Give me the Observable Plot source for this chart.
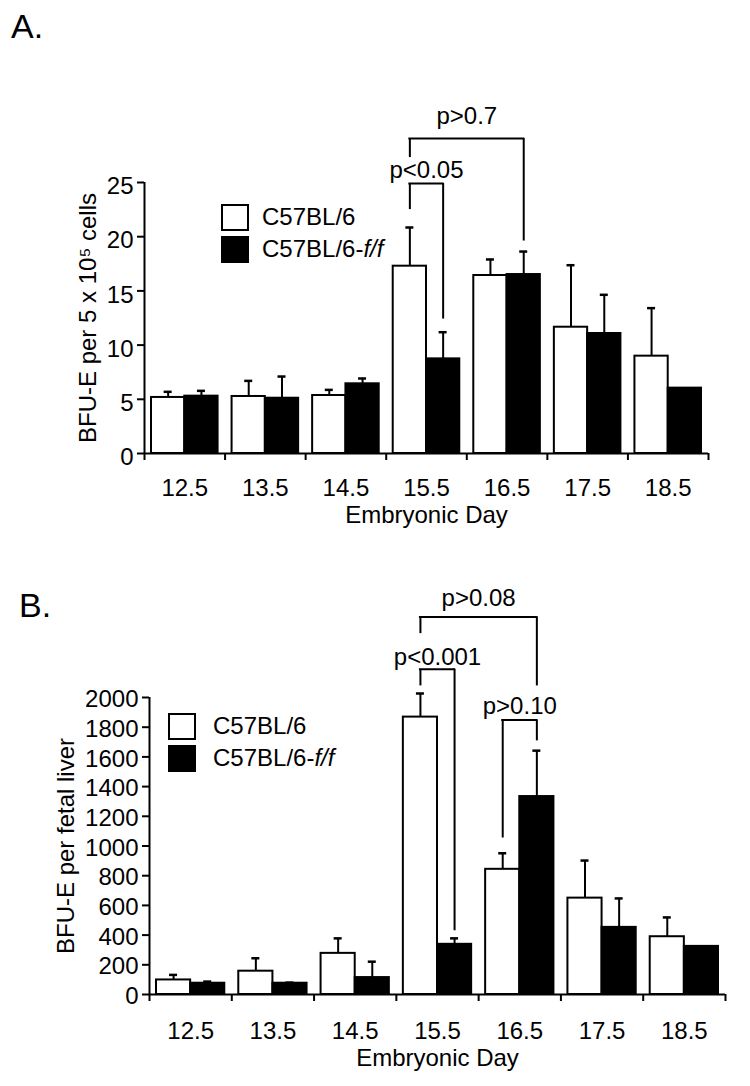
<!DOCTYPE html>
<html>
<head>
<meta charset="utf-8">
<script src="https://cdn.jsdelivr.net/npm/d3@7"></script>
<script src="https://cdn.jsdelivr.net/npm/@observablehq/plot@0.6"></script>
<style>
  html, body { margin: 0; padding: 0; background: #fff; }
  body { font-family: "Liberation Sans", Arial, Helvetica, sans-serif; color: #000; }
  #wrap { position: relative; width: 750px; height: 1086px; overflow: hidden; }
  .panel { position: absolute; left: 0; }
  .tag { position: absolute; font-size: 34px; line-height: 34px; }
  .box { position: absolute; box-sizing: border-box; border: 2px solid #000; }
  .lbl { position: absolute; font-size: 24px; line-height: 28px; white-space: nowrap; }
</style>
</head>
<body>
<div id="wrap">
  <div class="tag" style="left:11px; top:9px;">A.</div>
  <div class="tag" style="left:19px; top:588px;">B.</div>
  <div class="box" style="left:221px; top:204px; width:28px; height:27px; background:#fff;"></div>
  <div class="box" style="left:221px; top:236px; width:28px; height:27px; background:#000;"></div>
  <div class="lbl" style="left:262px; top:203px;">C57BL/6</div>
  <div class="lbl" style="left:262px; top:235px;">C57BL/6-<i>f/f</i></div>
  <div class="box" style="left:168px; top:713px; width:28px; height:27px; background:#fff;"></div>
  <div class="box" style="left:168px; top:745px; width:28px; height:27px; background:#000;"></div>
  <div class="lbl" style="left:213px; top:712px;">C57BL/6</div>
  <div class="lbl" style="left:213px; top:744px;">C57BL/6-<i>f/f</i></div>
</div>
<script>
// ---------- data ----------
const days = ["12.5", "13.5", "14.5", "15.5", "16.5", "17.5", "18.5"];
const seriesNames = ["C57BL/6", "C57BL/6-f/f"];

// Panel A: BFU-E per 5 x 10^5 cells (mean and top of SD bar)
const aWT    = [5.17, 5.26, 5.35, 17.28, 16.42, 11.65, 8.98];
const aWTtop = [5.69, 6.70, 5.87, 20.85, 17.90, 17.37, 13.41];
const aFF    = [5.29, 5.10, 6.43, 8.73, 16.51, 11.07, 6.03];
const aFFtop = [5.78, 7.10, 6.92, 11.19, 18.63, 14.64, null];
const aTicks = [0, 5, 10, 15, 20, 25];

// Panel B: BFU-E per fetal liver
const bWT    = [98, 157, 277, 1868, 843, 649, 389];
const bWTtop = [132, 244, 378, 2027, 951, 902, 519];
const bFF    = [76, 76, 114, 338, 1333, 452, 324];
const bFFtop = [87, 80, 221, 378, 1642, 647, null];
const bTicks = [0, 200, 400, 600, 800, 1000, 1200, 1400, 1600, 1800, 2000];

// significance brackets: from/to = [day, series index]; levels in data units
const aBrackets = [
  {label: "p<0.05", from: ["15.5", 0], to: ["15.5", 1], top: 24.9, fromEnd: 22.5, toEnd: 12.4, labelAt: 26.1},
  {label: "p>0.7",  from: ["15.5", 0], to: ["16.5", 1], top: 29.06, fromEnd: 27.3, toEnd: 19.6, labelAt: 31.15}
];
const bBrackets = [
  {label: "p>0.08",  from: ["15.5", 0], to: ["16.5", 1], top: 2542, fromEnd: 2430, toEnd: 2078, labelAt: 2670},
  {label: "p<0.001", from: ["15.5", 0], to: ["15.5", 1], top: 2190, fromEnd: 2078, toEnd: 430, labelAt: 2273},
  {label: "p>0.10",  from: ["16.5", 0], to: ["16.5", 1], top: 1849, fromEnd: 1054, toEnd: 1708, labelAt: 1943}
];

// ---------- drawing ----------
function panel(o) {
  const step = (o.width - o.ml - o.mr) / days.length;
  const half = step / 2, gap = 7, barW = half - gap, cap = 4;
  const off = [-barW / 2, barW / 2];
  const frameH = o.height - o.mt - o.mb;
  const mk = (vals, tops, s) => days.map((d, i) => ({day: d, series: seriesNames[s], v: vals[i], top: tops[i]}));
  const groups = [mk(o.wt, o.wtTop, 0), mk(o.ff, o.ffTop, 1)];
  const marks = [];
  groups.forEach((rows, s) => {
    marks.push(Plot.barY(rows, {x: "day", y: "v", fill: s ? "black" : "white", stroke: "black", strokeWidth: 2,
      insetLeft: s ? half : gap, insetRight: s ? gap : half}));
    const e = rows.filter(r => r.top != null);
    marks.push(Plot.ruleX(e, {x: "day", y1: "v", y2: "top", dx: off[s], strokeWidth: 2}));
    marks.push(Plot.tickY(e, {x: "day", y: "top", insetLeft: half + off[s] - cap, insetRight: half - off[s] - cap, strokeWidth: 2.5}));
  });
  // axes
  marks.push(
    Plot.ruleY([o.domain[0]], {strokeWidth: 2}),
    Plot.ruleX([days[0]], {x: d => d, y1: o.domain[0], y2: o.domain[1], dx: -half, strokeWidth: 2}),
    Plot.ruleX(days, {x: d => d, dx: -half, insetTop: frameH, insetBottom: -7, strokeWidth: 2}),
    Plot.ruleX([days[days.length - 1]], {x: d => d, dx: half, insetTop: frameH, insetBottom: -7, strokeWidth: 2}),
    Plot.axisY({ticks: o.ticks, tickSize: 7, strokeWidth: 2, tickFormat: () => "", label: null}),
    Plot.axisY({ticks: o.ticks, tickSize: 0, tickPadding: 11, fontSize: o.font, dy: o.tickDy, tickFormat: d => String(d), label: null}),
    Plot.axisX({tickSize: 0, tickPadding: o.xPad, fontSize: o.font, label: null}),
    Plot.text([o.ylabel], {frameAnchor: "left", textAnchor: "middle", rotate: -90, dx: o.ylabelDx, text: d => d, fontSize: o.font}),
    Plot.text(["Embryonic Day"], {frameAnchor: "bottom", textAnchor: "middle", dy: o.xlabelDy, text: d => d, fontSize: o.font})
  );
  // brackets
  o.brackets.forEach(b => {
    const li = days.indexOf(b.from[0]), ri = days.indexOf(b.to[0]);
    const xl = off[b.from[1]];
    const xr = off[b.to[1]] + (ri - li) * step;
    marks.push(
      Plot.ruleX([b], {x: d => d.from[0], y1: "fromEnd", y2: "top", dx: xl, strokeWidth: 2}),
      Plot.ruleX([b], {x: d => d.to[0], y1: "toEnd", y2: "top", dx: off[b.to[1]], strokeWidth: 2}),
      Plot.ruleY([b], {y: "top", x1: d => d.from[0], x2: d => d.to[0],
        insetLeft: half + xl - 1, insetRight: half - off[b.to[1]] - 1, strokeWidth: 2}),
      Plot.text([b], {x: d => d.from[0], y: "labelAt", text: "label", dx: (xl + xr) / 2, fontSize: o.font})
    );
  });
  const svg = Plot.plot({
    width: o.width, height: o.height,
    marginTop: o.mt, marginBottom: o.mb, marginLeft: o.ml, marginRight: o.mr,
    style: {fontFamily: '"Liberation Sans", Arial, Helvetica, sans-serif', background: "transparent", color: "black"},
    x: {type: "band", domain: days, padding: 0, round: false, axis: null},
    y: {domain: o.domain, axis: null},
    marks
  });
  svg.classList.add("panel");
  svg.style.top = o.top + "px";
  return svg;
}

const wrap = document.getElementById("wrap");
wrap.insertBefore(panel({
  top: 0, width: 750, height: 540, mt: 182, mb: 87, ml: 144, mr: 42,
  domain: [0, 25], ticks: aTicks, wt: aWT, wtTop: aWTtop, ff: aFF, ffTop: aFFtop,
  brackets: aBrackets, ylabel: "BFU-E per 5 x 10\u2075 cells", ylabelDx: -56,
  font: 24, tickDy: 4, xPad: 25, xlabelDy: 69
}), wrap.firstChild);
wrap.insertBefore(panel({
  top: 540, width: 750, height: 546, mt: 157, mb: 92, ml: 149, mr: 25,
  domain: [0, 2000], ticks: bTicks, wt: bWT, wtTop: bWTtop, ff: bFF, ffTop: bFFtop,
  brackets: bBrackets, ylabel: "BFU-E per fetal liver", ylabelDx: -83,
  font: 24, tickDy: 2, xPad: 27, xlabelDy: 71
}), wrap.firstChild);
</script>
</body>
</html>
